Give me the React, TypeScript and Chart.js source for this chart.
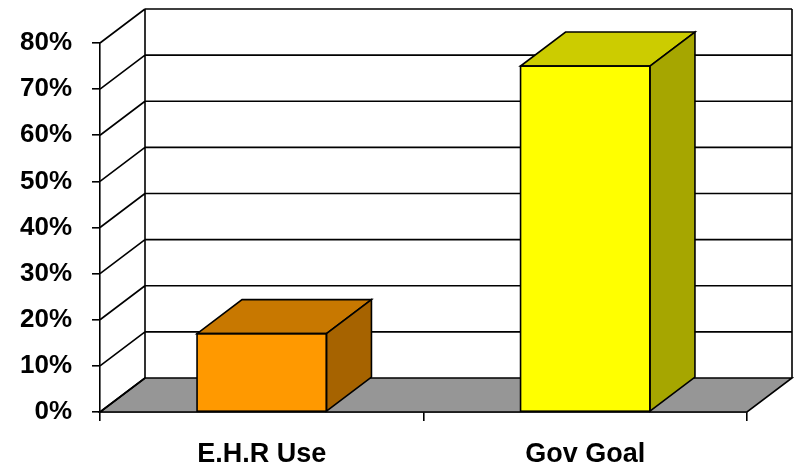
import React, { useEffect, useRef } from "react";
import { Chart, registerables } from "chart.js";

Chart.register(...registerables);

const categories: string[] = ["E.H.R Use", "Gov Goal"];
const values: number[] = [0.17, 0.75];
const yTickValues: number[] = [0, 0.1, 0.2, 0.3, 0.4, 0.5, 0.6, 0.7, 0.8];

const frontColors = ["#FF9900", "#FFFF00"];
const topColors = ["#C87800", "#CCCC00"];
const sideColors = ["#A66300", "#A6A600"];

const DX = 45;
const DY = 34;
const LINE = "#000000";
const LW = 1.6;
const FONT = "'Liberation Sans', Arial, sans-serif";

const threeD = {
  id: "threeD",
  beforeDatasetsDraw(chart: any) {
    const { ctx, chartArea, scales } = chart;
    const y = scales.y;
    const L = chartArea.left;
    const R = chartArea.right;
    const B = y.getPixelForValue(0);
    ctx.save();
    ctx.beginPath();
    ctx.moveTo(L, B);
    ctx.lineTo(R, B);
    ctx.lineTo(R + DX, B - DY);
    ctx.lineTo(L + DX, B - DY);
    ctx.closePath();
    ctx.fillStyle = "#969696";
    ctx.fill();
    ctx.strokeStyle = LINE;
    ctx.lineWidth = LW;
    ctx.stroke();
    ctx.beginPath();
    for (const v of yTickValues) {
      const py = y.getPixelForValue(v);
      ctx.moveTo(L, py);
      ctx.lineTo(L + DX, py - DY);
      if (v > 0) {
        ctx.moveTo(L + DX, py - DY);
        ctx.lineTo(R + DX, py - DY);
      }
    }
    const topY = y.getPixelForValue(yTickValues[yTickValues.length - 1]);
    ctx.moveTo(L + DX, topY - DY);
    ctx.lineTo(L + DX, B - DY);
    ctx.moveTo(R + DX, topY - DY);
    ctx.lineTo(R + DX, B - DY);
    ctx.stroke();
    ctx.restore();
  },
  afterDatasetsDraw(chart: any) {
    const { ctx } = chart;
    const meta = chart.getDatasetMeta(0);
    ctx.save();
    ctx.strokeStyle = LINE;
    ctx.lineWidth = LW;
    ctx.lineJoin = "miter";
    meta.data.forEach((el: any, i: number) => {
      const { x, y, base, width } = el.getProps(["x", "y", "base", "width"], true);
      const l = x - width / 2;
      const r = x + width / 2;
      ctx.beginPath();
      ctx.moveTo(l, y);
      ctx.lineTo(r, y);
      ctx.lineTo(r + DX, y - DY);
      ctx.lineTo(l + DX, y - DY);
      ctx.closePath();
      ctx.fillStyle = topColors[i];
      ctx.fill();
      ctx.stroke();
      ctx.beginPath();
      ctx.moveTo(r, y);
      ctx.lineTo(r + DX, y - DY);
      ctx.lineTo(r + DX, base - DY);
      ctx.lineTo(r, base);
      ctx.closePath();
      ctx.fillStyle = sideColors[i];
      ctx.fill();
      ctx.stroke();
      ctx.strokeRect(l, y, width, base - y);
    });
    ctx.restore();
  },
};

export default function App() {
  const ref = useRef<HTMLCanvasElement | null>(null);
  useEffect(() => {
    if (!ref.current) return;
    const chart = new Chart(ref.current, {
      type: "bar",
      data: {
        labels: categories,
        datasets: [
          {
            data: values,
            backgroundColor: frontColors,
            borderColor: LINE,
            borderWidth: 0,
            barPercentage: 0.4,
            categoryPercentage: 1,
          },
        ],
      },
      options: {
        responsive: false,
        animation: false,
        devicePixelRatio: 1,
        layout: { padding: { top: 43, right: 47, left: 0, bottom: 0 } },
        plugins: { legend: { display: false }, tooltip: { enabled: false } },
        scales: {
          x: {
            offset: true,
            grid: {
              offset: true,
              drawOnChartArea: false,
              drawTicks: true,
              tickLength: 9,
              color: LINE,
              lineWidth: LW,
            },
            border: { display: true, color: LINE, width: LW },
            ticks: {
              color: "#000",
              padding: 17,
              font: { family: FONT, size: 27, weight: "bold" },
            },
            afterFit: (s: any) => {
              s.height = 53;
            },
          },
          y: {
            min: 0,
            max: 0.8,
            afterBuildTicks: (s: any) => {
              s.ticks = yTickValues.map((v) => ({ value: v }));
            },
            grid: {
              drawOnChartArea: false,
              drawTicks: true,
              tickLength: 8,
              color: LINE,
              lineWidth: LW,
            },
            border: { display: true, color: LINE, width: LW },
            ticks: {
              color: "#000",
              padding: 20,
              font: { family: FONT, size: 26, weight: "bold" },
              callback: (v: any) => Math.round(Number(v) * 100) + "%",
            },
            afterFit: (s: any) => {
              s.width = 100;
            },
          },
        },
      },
      plugins: [threeD],
    });
    return () => chart.destroy();
  }, []);
  return (
    <div style={{ position: "absolute", left: 0, top: 0, width: 794, height: 465, background: "#fff" }}>
      <canvas ref={ref} width={794} height={465} />
    </div>
  );
}
